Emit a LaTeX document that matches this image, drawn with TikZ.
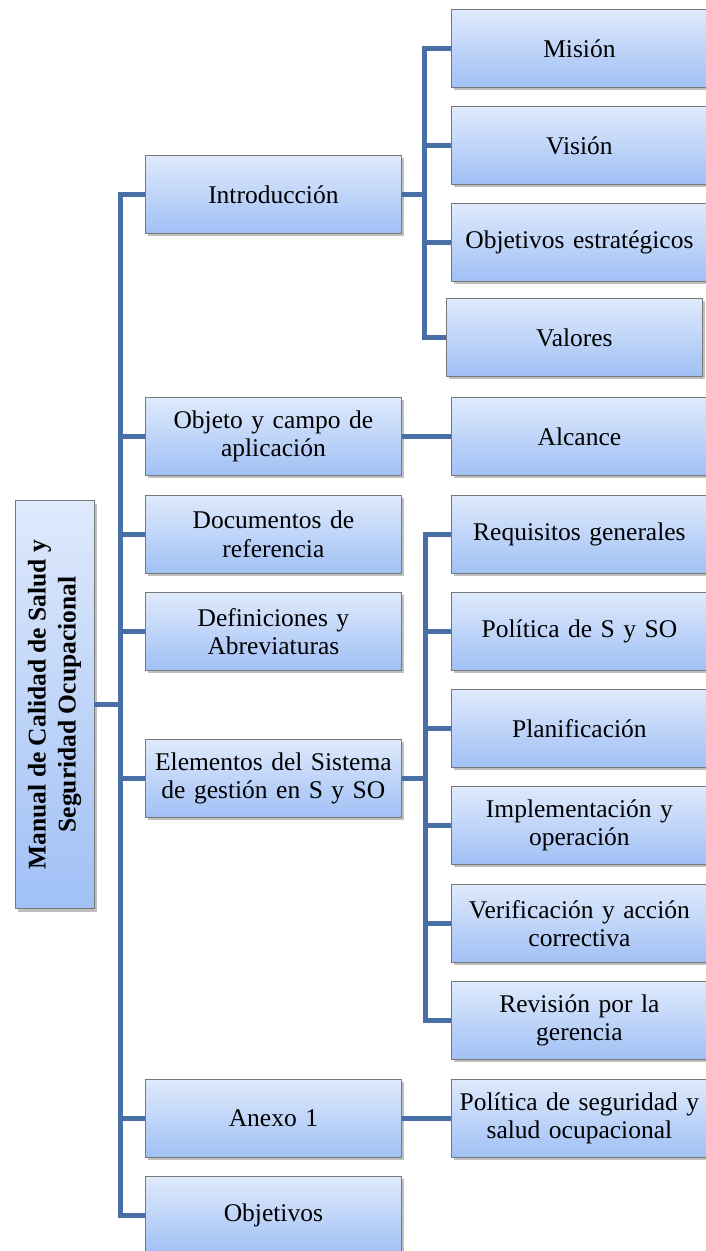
\documentclass[tikz,border=0pt]{standalone}
\usepackage{fontspec}
\setmainfont{Liberation Serif}
\usepackage{graphicx}
\usetikzlibrary{shadows}
\definecolor{lineblue}{RGB}{72,112,166}
\definecolor{boxtop}{RGB}{223,234,252}
\definecolor{boxbot}{RGB}{160,192,245}
\definecolor{boxline}{RGB}{120,120,120}
\tikzset{
  box/.style={draw=boxline, line width=0.8pt, top color=boxtop, bottom color=boxbot,
    minimum width=256pt, minimum height=78pt, inner sep=2pt, text width=250pt,
    align=center, anchor=north west, font=\fontsize{25.5}{28.5}\selectfont,
    drop shadow={shadow xshift=2.5pt, shadow yshift=-3pt, opacity=0.5}},
  rootbox/.style={draw=boxline, line width=0.8pt, top color=boxtop, bottom color=boxbot,
    minimum width=79pt, minimum height=408pt, inner sep=0pt, anchor=center,
    drop shadow={shadow xshift=2.5pt, shadow yshift=-3pt, opacity=0.5}},
  conn/.style={draw=lineblue, line width=5pt},
}
\begin{document}
\begin{tikzpicture}[x=1pt,y=-1pt]
\useasboundingbox (0,0) rectangle (705,1251);

% root
\node[rootbox] (root) at (54.5,704.5) {\rotatebox{90}{\fontsize{25.5}{30}\selectfont\bfseries
  \begin{tabular}{@{}c@{}}Manual de Calidad de Salud y\\Seguridad Ocupacional\end{tabular}}};

% level 1
\node[box] (intro) at (145,155) {Introducción};
\node[box] (objeto) at (145,397) {Objeto y campo de\\aplicación};
\node[box] (docs) at (145,495) {Documentos de\\referencia};
\node[box] (defs) at (145,592) {Definiciones y\\Abreviaturas};
\node[box] (elem) at (145,739) {Elementos del Sistema\\de gestión en S y SO};
\node[box] (anexo) at (145,1079) {Anexo 1};
\node[box] (objs) at (145,1176) {Objetivos};

% level 2
\node[box] (mision) at (451,9) {Misión};
\node[box] (vision) at (451,106) {Visión};
\node[box] (objest) at (451,203) {Objetivos estratégicos};
\node[box] (valores) at (446,298) {Valores};
\node[box] (alcance) at (451,397) {Alcance};
\node[box] (req) at (451,495) {Requisitos generales};
\node[box] (pol) at (451,592) {Política de S y SO};
\node[box] (plan) at (451,689) {Planificación};
\node[box] (impl) at (451,786) {Implementación y\\operación};
\node[box] (verif) at (451,884) {Verificación y acción\\correctiva};
\node[box] (rev) at (451,981) {Revisión por la\\gerencia};
\node[box] (polseg) at (451,1079) {Política de seguridad y\\salud ocupacional};

% connectors root -> level 1
\foreach \c in {intro,objeto,docs,defs,elem,anexo,objs}
  \draw[conn] (root.east) -- ++(26,0) |- (\c.west);

% introducción -> children
\foreach \c in {mision,vision,objest,valores}
  \draw[conn] (intro.east) -- ++(23,0) |- (\c.west);

% elementos -> children
\foreach \c in {req,pol,plan,impl,verif,rev}
  \draw[conn] (elem.east) -- ++(24,0) |- (\c.west);

\draw[conn] (objeto.east) -- (alcance.west);
\draw[conn] (anexo.east) -- (polseg.west);
\end{tikzpicture}
\end{document}
